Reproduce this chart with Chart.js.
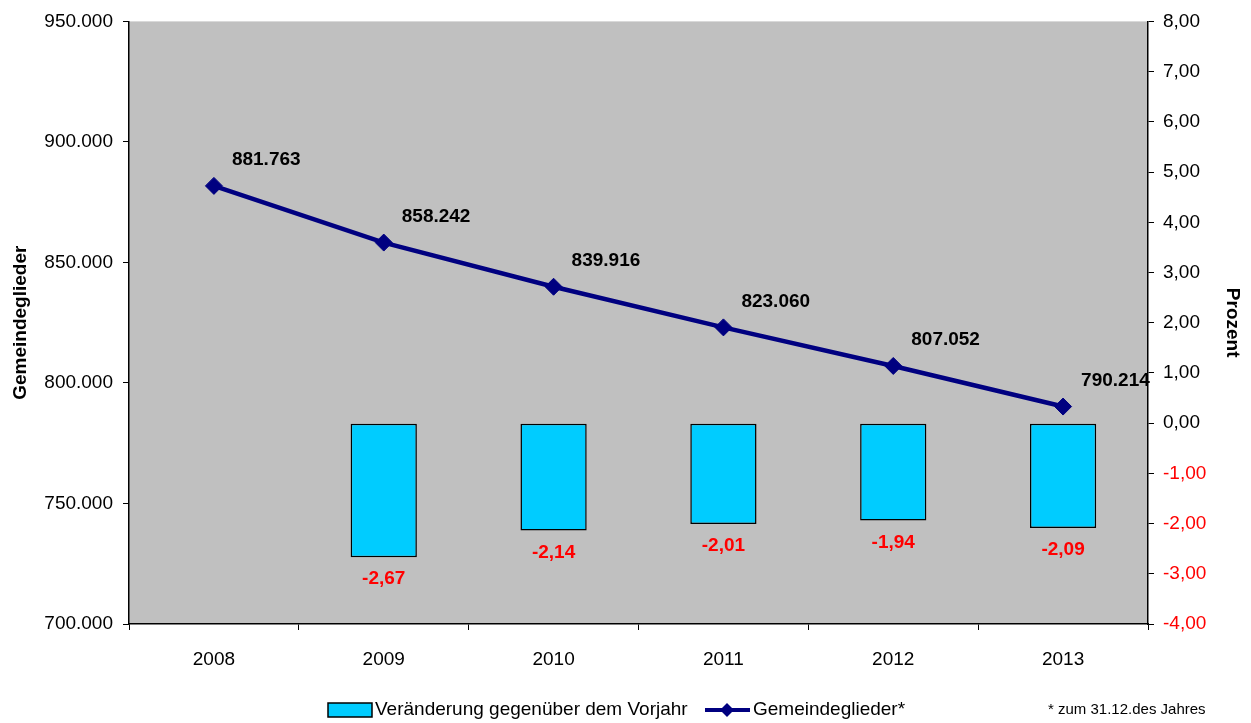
<!DOCTYPE html>
<html>
<head>
<meta charset="utf-8">
<script src="https://cdn.jsdelivr.net/npm/chart.js@4.4.0/dist/chart.umd.min.js"></script>
<style>
html,body{margin:0;padding:0;background:#fff;}
#wrap{width:1251px;height:723px;position:relative;}
</style>
</head>
<body>
<div id="wrap"><canvas id="c" width="1251" height="723"></canvas></div>
<script>
// ---- data ----
const years = ['2008', '2009', '2010', '2011', '2012', '2013'];
const members = [881763, 858242, 839916, 823060, 807052, 790214];
const changePct = [null, -2.67, -2.14, -2.01, -1.94, -2.09];
const leftAxisRange = [700000, 950000, 50000];
const rightAxisRange = [-4, 8, 1];
const legendLabels = ['Veränderung gegenüber dem Vorjahr', 'Gemeindeglieder*'];
const footnote = '* zum 31.12.des Jahres';
const axisTitles = ['Gemeindeglieder', 'Prozent'];

const FONT = "'Liberation Sans', Arial, sans-serif";
const NAVY = '#000080';
const CYAN = '#00CCFF';

function fmtThousands(v) {
  const s = Math.round(Math.abs(v)).toString();
  const out = s.replace(/\B(?=(\d{3})+(?!\d))/g, '.');
  return (v < 0 ? '-' : '') + out;
}
function fmtDec(v) {
  return v.toFixed(2).replace('.', ',');
}

const bgPlugin = {
  id: 'bg',
  beforeDraw(chart) {
    const {ctx, chartArea: a} = chart;
    ctx.save();
    ctx.fillStyle = '#C0C0C0';
    ctx.fillRect(a.left, a.top, a.right - a.left, a.bottom - a.top);
    ctx.restore();
  }
};

const labelPlugin = {
  id: 'labels',
  afterDatasetsDraw(chart) {
    const ctx = chart.ctx;
    ctx.save();
    // line labels
    const lm = chart.getDatasetMeta(1);
    ctx.font = 'bold 19px ' + FONT;
    ctx.fillStyle = '#000';
    ctx.textAlign = 'left';
    ctx.textBaseline = 'middle';
    lm.data.forEach((el, i) => {
      ctx.fillText(fmtThousands(members[i]), el.x + 18, el.y - 26);
    });
    // bar labels
    const bm = chart.getDatasetMeta(0);
    ctx.fillStyle = '#FF0000';
    ctx.textAlign = 'center';
    bm.data.forEach((el, i) => {
      if (changePct[i] == null) return;
      const bottom = Math.max(el.y, el.base);
      ctx.fillText(fmtDec(changePct[i]), el.x, bottom + 22);
    });
    ctx.restore();
  },
  afterDraw(chart) {
    const ctx = chart.ctx;
    ctx.save();
    const cy = 710;
    // bar legend box
    ctx.fillStyle = CYAN;
    ctx.fillRect(328, 703, 44, 14);
    ctx.strokeStyle = '#000';
    ctx.lineWidth = 1.5;
    ctx.strokeRect(328, 703, 44, 14);
    ctx.font = '19px ' + FONT;
    ctx.fillStyle = '#000';
    ctx.textAlign = 'left';
    ctx.textBaseline = 'middle';
    ctx.fillText(legendLabels[0], 375, cy);
    // line legend
    ctx.strokeStyle = NAVY;
    ctx.lineWidth = 4;
    ctx.beginPath();
    ctx.moveTo(705, cy);
    ctx.lineTo(750, cy);
    ctx.stroke();
    ctx.fillStyle = NAVY;
    ctx.beginPath();
    ctx.moveTo(727, cy - 7);
    ctx.lineTo(734, cy);
    ctx.lineTo(727, cy + 7);
    ctx.lineTo(720, cy);
    ctx.closePath();
    ctx.fill();
    ctx.fillStyle = '#000';
    ctx.fillText(legendLabels[1], 753, cy);
    ctx.font = '15px ' + FONT;
    ctx.fillText(footnote, 1048, cy);
    ctx.restore();
  }
};

new Chart(document.getElementById('c'), {
  type: 'bar',
  data: {
    labels: years,
    datasets: [
      {
        type: 'bar',
        label: legendLabels[0],
        data: changePct,
        yAxisID: 'yR',
        backgroundColor: CYAN,
        borderColor: '#000',
        borderWidth: 1.5,
        borderSkipped: false,
        categoryPercentage: 1,
        barPercentage: 0.39,
        order: 2
      },
      {
        type: 'line',
        label: legendLabels[1],
        data: members,
        yAxisID: 'yL',
        borderColor: NAVY,
        borderWidth: 4.5,
        backgroundColor: NAVY,
        pointStyle: 'rectRot',
        pointRadius: 8.5,
        pointBorderWidth: 1,
        pointBackgroundColor: NAVY,
        pointBorderColor: NAVY,
        tension: 0,
        order: 1
      }
    ]
  },
  options: {
    responsive: false,
    animation: false,
    layout: {padding: {top: 19, left: 0, right: 0, bottom: 0}},
    plugins: {legend: {display: false}, tooltip: {enabled: false}},
    scales: {
      x: {
        offset: true,
        grid: {offset: true, drawOnChartArea: false, color: '#000', tickLength: 6, lineWidth: 1},
        border: {display: true, color: '#000', width: 1.5},
        ticks: {font: {family: FONT, size: 19}, color: '#000', padding: 18, maxRotation: 0},
        afterFit(s) { s.height = 99; }
      },
      yL: {
        position: 'left',
        min: leftAxisRange[0], max: leftAxisRange[1],
        grid: {drawOnChartArea: false, color: '#000', tickLength: 6},
        border: {display: true, color: '#000', width: 1.5},
        ticks: {
          stepSize: leftAxisRange[2],
          font: {family: FONT, size: 19}, color: '#000', padding: 10,
          callback: v => fmtThousands(v)
        },
        title: {display: true, text: axisTitles[0], font: {family: FONT, size: 19, weight: 'bold'}, color: '#000', padding: {top: 9, bottom: 0}},
        afterFit(s) { s.width = 129; }
      },
      yR: {
        position: 'right',
        min: rightAxisRange[0], max: rightAxisRange[1],
        grid: {drawOnChartArea: false, color: '#000', tickLength: 6},
        border: {display: true, color: '#000', width: 1.5},
        ticks: {
          stepSize: rightAxisRange[2],
          font: {family: FONT, size: 19},
          color: ctx => (ctx.tick && ctx.tick.value < 0 ? '#FF0000' : '#000'),
          padding: 9,
          callback: v => fmtDec(v)
        },
        title: {display: true, text: axisTitles[1], font: {family: FONT, size: 19, weight: 'bold'}, color: '#000', padding: {top: 7, bottom: 0}},
        afterFit(s) { s.width = 103; }
      }
    }
  },
  plugins: [bgPlugin, labelPlugin]
});
</script>
</body>
</html>
